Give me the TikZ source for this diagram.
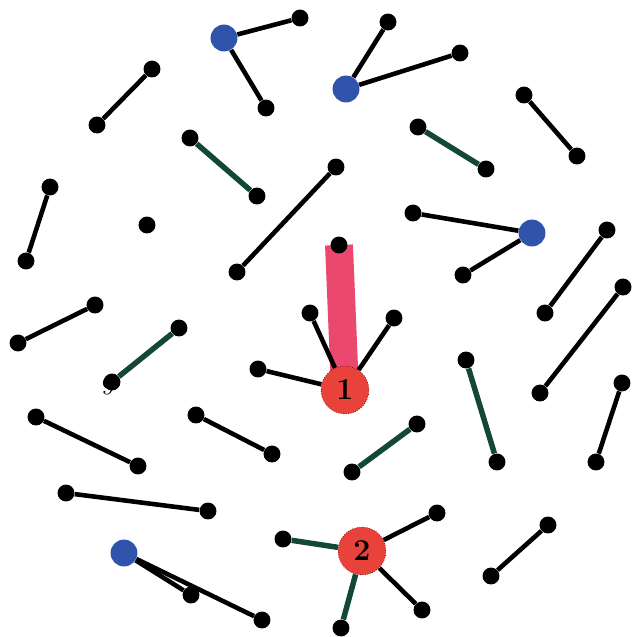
\documentclass[tikz,border=0pt]{standalone}
\usetikzlibrary{backgrounds}
\definecolor{hubred}{RGB}{232,66,58}
\definecolor{barpink}{RGB}{234,72,110}
\definecolor{seedblue}{RGB}{48,84,172}
\definecolor{darkgreen}{RGB}{18,72,52}
\tikzstyle{dot} = [circle, fill=black, inner sep=0pt, minimum size=17\px]
\tikzstyle{seed} = [circle, fill=seedblue, inner sep=0pt, minimum size=27\px]
\tikzstyle{hub} = [circle, fill=hubred, draw=red!50!black, densely dotted, thin, inner sep=0pt, minimum size=48\px, font=\LARGE\bfseries]
\tikzstyle{link} = [line width=4.6\px, black]
\tikzstyle{glink} = [line width=5.5\px, darkgreen]
\newcommand{\px}{*0.567pt}

\begin{document}
\begin{tikzpicture}[x=0.02cm, y=-0.02cm]
\useasboundingbox (0,0) rectangle (635,637);

% Hubs and seeds
\node (h1) [hub] at (345,390) {1};
\node (h2) [hub] at (362,551) {2};
\node (b1) [seed] at (224,38) {};
\node (b2) [seed] at (346,89) {};
\node (b3) [seed] at (532,233) {};
\node (b4) [seed] at (124,553) {};

% Stray label
\node (lbl) at (108,386) {\Large 9};

% Dots
\node (d1) [dot] at (300,18) {};
\node (d2) [dot] at (266,108) {};
\node (d3) [dot] at (388,22) {};
\node (d4) [dot] at (460,53) {};
\node (d5) [dot] at (97,125) {};
\node (d6) [dot] at (152,69) {};
\node (d7) [dot] at (190,138) {};
\node (d8) [dot] at (257,196) {};
\node (d9) [dot] at (418,127) {};
\node (d10) [dot] at (486,169) {};
\node (d11) [dot] at (524,95) {};
\node (d12) [dot] at (577,156) {};
\node (d13) [dot] at (50,187) {};
\node (d14) [dot] at (26,261) {};
\node (d15) [dot] at (147,225) {};
\node (d16) [dot] at (237,272) {};
\node (d17) [dot] at (336,167) {};
\node (d18) [dot] at (339,245) {};
\node (d19) [dot] at (413,213) {};
\node (d20) [dot] at (463,275) {};
\node (d21) [dot] at (607,230) {};
\node (d22) [dot] at (545,313) {};
\node (d23) [dot] at (95,305) {};
\node (d24) [dot] at (18,343) {};
\node (d25) [dot] at (179,328) {};
\node (d26) [dot] at (112,382) {};
\node (d27) [dot] at (258,369) {};
\node (d28) [dot] at (310,313) {};
\node (d29) [dot] at (394,318) {};
\node (d30) [dot] at (466,360) {};
\node (d31) [dot] at (497,462) {};
\node (d32) [dot] at (623,287) {};
\node (d33) [dot] at (540,393) {};
\node (d34) [dot] at (622,383) {};
\node (d35) [dot] at (596,462) {};
\node (d36) [dot] at (36,417) {};
\node (d37) [dot] at (138,466) {};
\node (d38) [dot] at (196,415) {};
\node (d39) [dot] at (272,454) {};
\node (d40) [dot] at (417,424) {};
\node (d41) [dot] at (352,472) {};
\node (d42) [dot] at (66,493) {};
\node (d43) [dot] at (208,511) {};
\node (d44) [dot] at (283,539) {};
\node (d45) [dot] at (437,513) {};
\node (d46) [dot] at (341,628) {};
\node (d47) [dot] at (422,610) {};
\node (d48) [dot] at (191,595) {};
\node (d49) [dot] at (262,620) {};
\node (d50) [dot] at (548,525) {};
\node (d51) [dot] at (491,576) {};

% Pink bar behind
\begin{pgfonlayer}{background}
\draw [line width=28\px, barpink] (d18.center) -- (h1.center);
\end{pgfonlayer}

% Links
\draw [link] (b1) -- (d1);
\draw [link] (b1) -- (d2);
\draw [link] (b2) -- (d3);
\draw [link] (b2) -- (d4);
\draw [link] (d5) -- (d6);
\draw [glink] (d7) -- (d8);
\draw [glink] (d9) -- (d10);
\draw [link] (d11) -- (d12);
\draw [link] (d13) -- (d14);
\draw [link] (d16) -- (d17);
\draw [link] (b3) -- (d19);
\draw [link] (b3) -- (d20);
\draw [link] (d21) -- (d22);
\draw [link] (d23) -- (d24);
\draw [glink] (d25) -- (d26);
\draw [link] (h1) -- (d27);
\draw [link] (h1) -- (d28);
\draw [link] (h1) -- (d29);
\draw [glink] (d30) -- (d31);
\draw [link] (d32) -- (d33);
\draw [link] (d34) -- (d35);
\draw [link] (d36) -- (d37);
\draw [link] (d38) -- (d39);
\draw [glink] (d40) -- (d41);
\draw [link] (d42) -- (d43);
\draw [glink] (h2) -- (d44);
\draw [link] (h2) -- (d45);
\draw [glink] (h2) -- (d46);
\draw [link] (h2) -- (d47);
\draw [link] (b4) -- (d48);
\draw [link] (b4) -- (d49);
\draw [link] (d50) -- (d51);

\end{tikzpicture}
\end{document}
